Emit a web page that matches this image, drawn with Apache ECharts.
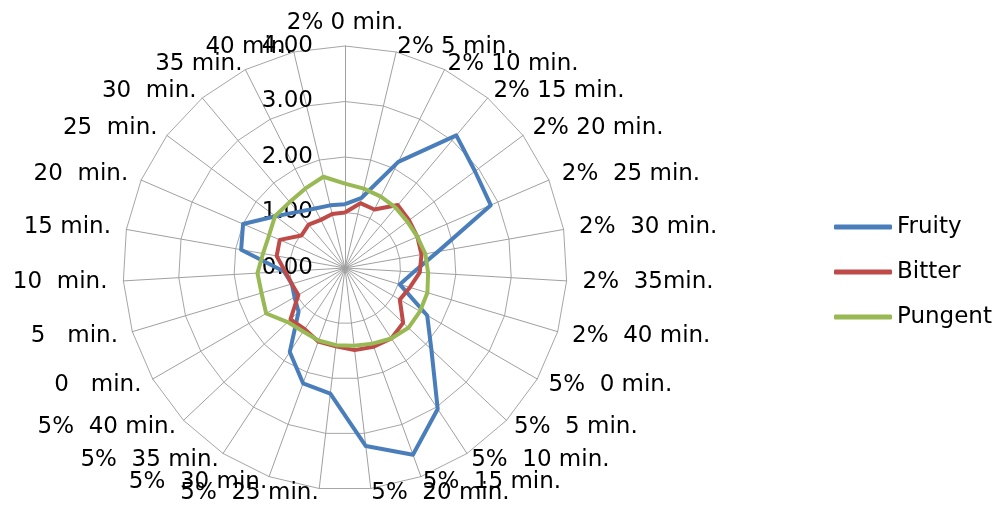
<!DOCTYPE html>
<html>
<head>
<meta charset="utf-8">
<script src="https://cdn.jsdelivr.net/npm/echarts@6/dist/echarts.min.js"></script>
<style>
html,body{margin:0;padding:0;background:#fff;}
#chart{width:1000px;height:506px;}
</style>
</head>
<body>
<div id="chart"></div>
<script>
var categories = ["2% 0 min.", "2% 5 min.", "2% 10 min.", "2% 15 min.", "2% 20 min.", "2%  25 min.", "2%  30 min.", "2%  35min.", "2%  40 min.",
  "5%  0 min.", "5%  5 min.", "5%  10 min.", "5%  15 min.", "5%  20 min.", "5%  25 min.", "5%  30 min.", "5%  35 min.", "5%  40 min.",
  "0   min.", "5   min.", "10  min.", "15 min.", "20  min.", "25  min.", "30  min.", "35 min.", "40 min."];
var seriesNames = ["Fruity", "Bitter", "Pungent"];
var fruity  = [1.15, 1.30, 2.14, 3.12, 2.92, 2.86, 1.70, 1.24, 1.03, 1.71, 2.14, 3.04, 3.58, 3.23, 2.28, 2.21, 1.81, 1.15, 1.05, 1.00, 1.10, 1.90, 2.00, 1.56, 1.32, 1.20, 1.16];
var bitter  = [1.00, 1.20, 1.18, 1.48, 1.44, 1.42, 1.40, 1.35, 1.22, 1.14, 1.44, 1.52, 1.51, 1.49, 1.42, 1.41, 1.32, 1.35, 0.97, 1.00, 1.08, 1.25, 1.28, 0.98, 1.02, 0.97, 1.00];
var pungent = [1.52, 1.47, 1.44, 1.42, 1.40, 1.42, 1.47, 1.50, 1.55, 1.56, 1.57, 1.52, 1.45, 1.41, 1.40, 1.39, 1.37, 1.42, 1.64, 1.57, 1.58, 1.50, 1.49, 1.57, 1.55, 1.60, 1.69];
var axisMin = 0, axisMax = 4, axisSplits = 4;

var colors = ["#4A7EBB", "#BE4B48", "#98B954"];
var FONT = "DejaVu Sans";
var n = categories.length;

// ECharts radar runs counter-clockwise; reorder so categories run clockwise like the reference
var order = [0];
for (var k = n - 1; k >= 1; k--) order.push(k);
function reorder(arr) { return order.map(function (i) { return arr[i]; }); }

var indicator = order.map(function (i) {
  var th = i * 2 * Math.PI / n;
  var s = Math.sin(th);
  var item = { name: categories[i], min: axisMin, max: axisMax, nameGap: i === 0 ? 10 : 4 + 12 * s * s };
  if (i === 0) {
    item.axisLabel = {
      show: true, color: "#000", fontFamily: FONT, fontSize: 23, margin: 32,
      formatter: function (v) { return Number(v).toFixed(2); }
    };
  }
  return item;
});

var chart = echarts.init(document.getElementById("chart"), null, { renderer: "canvas" });
chart.setOption({
  animation: false,
  backgroundColor: "#fff",
  color: colors,
  legend: {
    orient: "vertical",
    left: 829,
    top: 210,
    itemWidth: 58,
    itemHeight: 5,
    itemGap: 21,
    icon: "roundRect",
    textStyle: { color: "#000", fontFamily: FONT, fontSize: 23, lineHeight: 24 },
    data: seriesNames
  },
  radar: {
    center: [345, 268],
    radius: 222,
    startAngle: 90,
    shape: "polygon",
    splitNumber: axisSplits,
    axisName: { color: "#000", fontFamily: FONT, fontSize: 23 },
    axisLine: { lineStyle: { color: "#a0a0a0", width: 1 } },
    splitLine: { lineStyle: { color: "#a6a6a6", width: 1 } },
    splitArea: { show: false },
    axisTick: { show: false },
    axisLabel: { show: false },
    indicator: indicator
  },
  series: [{
    type: "radar",
    symbol: "none",
    data: [
      { name: seriesNames[0], value: reorder(fruity), lineStyle: { color: colors[0], width: 4 }, itemStyle: { color: colors[0] } },
      { name: seriesNames[1], value: reorder(bitter), lineStyle: { color: colors[1], width: 4 }, itemStyle: { color: colors[1] } },
      { name: seriesNames[2], value: reorder(pungent), lineStyle: { color: colors[2], width: 4 }, itemStyle: { color: colors[2] } }
    ]
  }]
});
</script>
</body>
</html>
